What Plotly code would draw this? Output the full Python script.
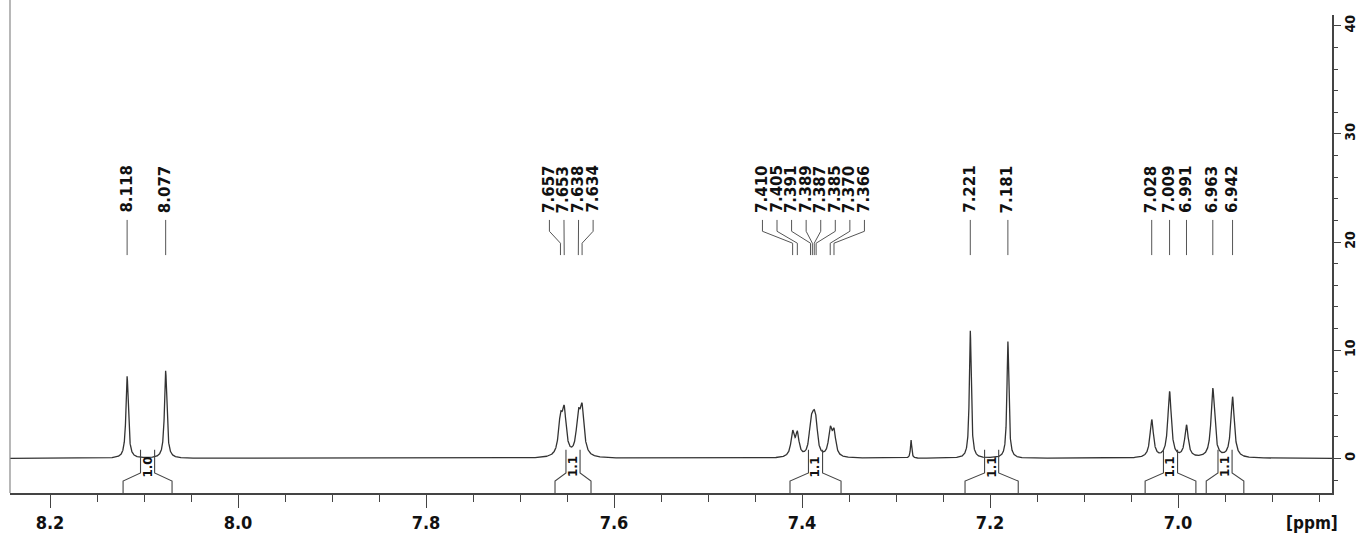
import numpy as np
import plotly.graph_objects as go

# ---------------- data ----------------
# peak positions (ppm) and observed peak-top heights (intensity units)
peak_ppm = [8.118, 8.077, 7.657, 7.653, 7.638, 7.634, 7.410, 7.405,
            7.391, 7.389, 7.387, 7.385, 7.370, 7.366, 7.284, 7.221,
            7.181, 7.028, 7.009, 6.991, 6.963, 6.942]
peak_height = [7.6, 8.1, 4.3, 4.9, 4.6, 5.1, 2.6, 2.5,
               3.6, 4.35, 4.5, 3.8, 3.0, 2.8, 1.7, 11.8,
               10.8, 3.6, 6.2, 3.1, 6.5, 5.7]
peak_hwhm = [0.0015, 0.0015, 0.0025, 0.0025, 0.0025, 0.0025, 0.0022, 0.0022,
             0.0020, 0.0020, 0.0020, 0.0020, 0.0022, 0.0022, 0.0008, 0.0012,
             0.0012, 0.0022, 0.0022, 0.0022, 0.0022, 0.0022]

# labelled peaks (shown at the top)
label_ppm = [8.118, 8.077, 7.657, 7.653, 7.638, 7.634, 7.410, 7.405,
             7.391, 7.389, 7.387, 7.385, 7.370, 7.366, 7.221, 7.181,
             7.028, 7.009, 6.991, 6.963, 6.942]
label_text = ["8.118", "8.077", "7.657", "7.653", "7.638", "7.634", "7.410", "7.405",
              "7.391", "7.389", "7.387", "7.385", "7.370", "7.366", "7.221", "7.181",
              "7.028", "7.009", "6.991", "6.963", "6.942"]

# integration regions (ppm) and values
integral_start = [8.1223, 7.6628, 7.4128, 7.2266, 7.0350, 6.9700]
integral_end = [8.0702, 7.6245, 7.3585, 7.1700, 6.9810, 6.9300]
integral_value = ["1.0", "1.1", "1.1", "1.1", "1.1", "1.1"]

x_range = [8.2426, 6.8362]
y_range = [-3.2, 41.0]

# ---------------- spectrum from the peak list ----------------
pp = np.array(peak_ppm)
hw = np.array(peak_hwhm)
M = 1.0 / (1.0 + ((pp[:, None] - pp[None, :]) / hw[None, :]) ** 2)
amp = np.clip(np.linalg.solve(M, np.array(peak_height)), 0, None)

x = np.linspace(x_range[0], x_range[1], 14000)
y = np.zeros_like(x)
for p, a, g in zip(pp, amp, hw):
    y += a / (1.0 + ((x - p) / g) ** 2)

fig = go.Figure()
fig.add_trace(go.Scatter(x=x, y=y, mode="lines",
                         line=dict(color="#333333", width=1.3),
                         hoverinfo="skip", showlegend=False))

# ---------------- integral brackets ----------------
col_half = 0.0075
ix, iy = [], []
for s, e in zip(integral_start, integral_end):
    c = (s + e) / 2
    ix += [s, s, c + col_half, c + col_half, None, e, e, c - col_half, c - col_half, None]
    iy += [y_range[0], -2.1, -1.35, 0.8, None, y_range[0], -2.1, -1.35, 0.8, None]
fig.add_trace(go.Scatter(x=ix, y=iy, mode="lines", line=dict(color="#444444", width=1.1),
                         hoverinfo="skip", showlegend=False, cliponaxis=False))

# ---------------- label positions (spread apart) ----------------
min_sep = 0.0155
groups = [[i] for i in range(len(label_ppm))]
def centre(g):
    return float(np.mean([label_ppm[i] for i in g]))
changed = True
while changed:
    changed = False
    for k in range(len(groups) - 1):
        g1, g2 = groups[k], groups[k + 1]
        low1 = centre(g1) - (len(g1) - 1) / 2 * min_sep
        high2 = centre(g2) + (len(g2) - 1) / 2 * min_sep
        if low1 - high2 < min_sep - 1e-9:
            groups[k] = g1 + g2
            del groups[k + 1]
            changed = True
            break
label_pos = [0.0] * len(label_ppm)
for g in groups:
    c = centre(g)
    n = len(g)
    for j, i in enumerate(g):
        label_pos[i] = c + ((n - 1) / 2 - j) * min_sep

lx, ly = [], []
for p, q in zip(label_ppm, label_pos):
    lx += [q, q, p, p, None]
    ly += [22.05, 21.0, 19.9, 18.8, None]
fig.add_trace(go.Scatter(x=lx, y=ly, mode="lines", line=dict(color="#555555", width=1),
                         hoverinfo="skip", showlegend=False))

ann = []
label_font = dict(family="DejaVu Sans", size=15, color="#111111", weight="bold")
for q, t in zip(label_pos, label_text):
    ann.append(dict(x=q, y=22.6, xref="x", yref="y", text=t, showarrow=False,
                    textangle=-90, xanchor="center", yanchor="bottom",
                    borderpad=0, font=label_font))
for s, e, v in zip(integral_start, integral_end, integral_value):
    ann.append(dict(x=(s + e) / 2, y=-0.8, xref="x", yref="y", text=v, showarrow=False,
                    textangle=-90, xanchor="center", yanchor="middle", borderpad=0,
                    font=dict(family="DejaVu Sans", size=12, color="#111111", weight="bold")))
ann.append(dict(x=0.985, y=-0.063, xref="paper", yref="paper", text="[ppm]",
                showarrow=False, xanchor="center", yanchor="middle",
                font=dict(family="Liberation Sans Narrow, DejaVu Sans Condensed, Arial Narrow, sans-serif",
                          size=17, color="#111111", weight="bold")))

tick_family = "Liberation Sans Narrow, DejaVu Sans Condensed, Arial Narrow, sans-serif"
tick_font = dict(family=tick_family, size=18, color="#111111", weight="bold")

fig.update_layout(
    width=1359, height=535,
    margin=dict(l=10, r=27, t=15, b=42),
    paper_bgcolor="white", plot_bgcolor="white",
    showlegend=False,
    annotations=ann,
    shapes=[dict(type="line", xref="paper", yref="paper", x0=0, x1=0, y0=0, y1=1 + 15 / 478,
                 line=dict(color="#888888", width=1.2))],
    xaxis=dict(range=x_range, showgrid=False, zeroline=False, showline=True,
               linecolor="#444444", linewidth=1.5, ticks="outside", ticklen=13,
               tickwidth=1.3, tickcolor="#444444", tick0=8.2, dtick=0.2,
               tickformat=".1f", tickfont=tick_font, automargin=False,
               minor=dict(dtick=0.05, tick0=8.2, ticks="outside", ticklen=7,
                          tickwidth=1.1, tickcolor="#444444", showgrid=False)),
    yaxis=dict(range=y_range, side="right", showgrid=False, zeroline=False, showline=True,
               linecolor="#444444", linewidth=1.5, ticks="outside", ticklen=7,
               tickwidth=1.3, tickcolor="#444444", tick0=0, dtick=10,
               tickangle=-90, automargin=False, ticklabelstandoff=-3,
               tickfont=dict(family=tick_family, size=14, color="#111111", weight="bold"),
               minor=dict(dtick=2, tick0=0, ticks="outside", ticklen=4,
                          tickwidth=1.1, tickcolor="#444444", showgrid=False)),
)

fig.write_html("out.html", config={"displayModeBar": False},
               post_script="document.body.style.margin='0px';document.body.style.overflow='hidden';")
